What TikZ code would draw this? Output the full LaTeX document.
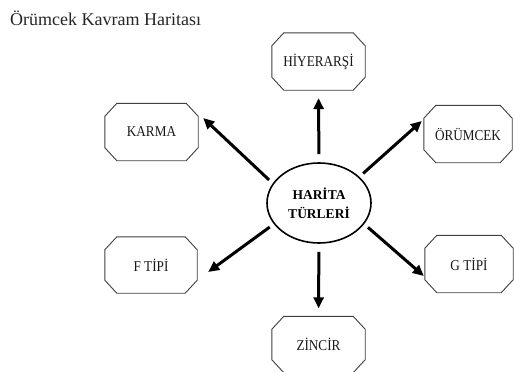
\documentclass[tikz,border=0pt]{standalone}
\usepackage{fontspec}
\setmainfont{Liberation Serif}
\newfontfamily\condserif[FakeStretch=0.88]{Liberation Serif}
\usetikzlibrary{shapes.geometric,arrows.meta}
\begin{document}
\begin{tikzpicture}[x=1pt,y=-1pt,
  oct/.style={rectangle, minimum width=93pt, minimum height=57pt, inner sep=0pt,
    font=\condserif\fontsize{15}{17}\selectfont, text=black!90},
  octline/.style={draw=black!75, line width=0.9pt, line join=round},
  hubst/.style={ellipse, draw, line width=1.6pt, minimum width=104pt, minimum height=80pt,
    inner sep=0pt, align=center, font=\bfseries\fontsize{13.5}{19}\selectfont},
  arr/.style={line width=3pt, -{Triangle[length=11pt,width=10pt]}, shorten <=5pt}]
\fill[white] (0,0) rectangle (514,372);
\useasboundingbox (0,0) rectangle (514,372);
\node[anchor=base west, inner sep=0pt, font=\fontsize{18}{20}\selectfont, text=black!85] (title) at (10,25) {Örümcek Kavram Haritası};
\node[hubst] (hub) at (319,203) {HARİTA\\TÜRLERİ};
\node[oct] (hiy) at (318.5,61.5) {HİYERARŞİ};
\node[oct] (karma) at (151.5,132) {KARMA};
\node[oct, minimum width=88pt] (orum) at (468,134) {ÖRÜMCEK};
\node[oct, minimum width=92pt, minimum height=56pt] (ftip) at (151,265) {F TİPİ};
\node[oct, minimum width=88pt] (gtip) at (469,264) {G TİPİ};
\node[oct, minimum height=56pt] (zin) at (318.5,344.5) {ZİNCİR};
\foreach \n in {hiy,karma,orum,ftip,gtip,zin}
  \draw[octline] ([xshift=12pt]\n.north west) -- ([xshift=-12pt]\n.north east)
    -- ([yshift=-13pt]\n.north east) -- ([yshift=13pt]\n.south east)
    -- ([xshift=-12pt]\n.south east) -- ([xshift=12pt]\n.south west)
    -- ([yshift=13pt]\n.south west) -- ([yshift=-13pt]\n.north west) -- cycle;
\draw[arr, shorten >=8pt, shorten <=8pt] (hub) -- (hiy);
\draw[arr, shorten >=8pt, shorten <=8pt] (hub) -- (zin);
\draw[arr] (hub.157) -- ([xshift=5pt,yshift=14pt]karma.east);
\draw[arr] (hub.33) -- ([xshift=-2pt,yshift=13pt]orum.west);
\draw[arr] (hub.205) -- ([xshift=11pt,yshift=-7pt]ftip.east);
\draw[arr] (hub.-25) -- ([xshift=-1pt,yshift=-12pt]gtip.west);
\end{tikzpicture}
\end{document}
